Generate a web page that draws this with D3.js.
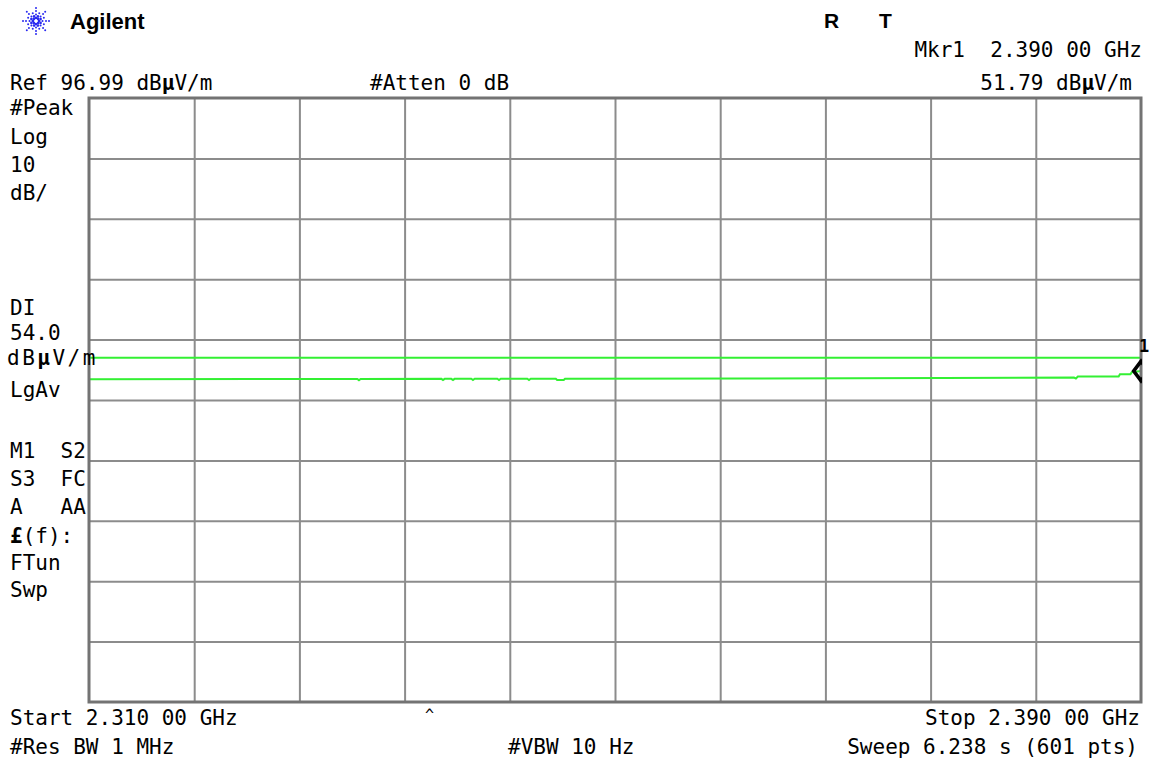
<!DOCTYPE html>
<html>
<head>
<meta charset="utf-8">
<script src="https://cdn.jsdelivr.net/npm/d3@7"></script>
<style>
body { margin: 0; background: #fff; }
text { font-family: "DejaVu Sans Mono", monospace; font-size: 21px; fill: #000; white-space: pre; }
</style>
</head>
<body>
<div id="screen"></div>
<script>
// sweep settings
var startMHz = 2310.00, stopMHz = 2390.00
var refLevel = 96.99, dbPerDiv = 10, nDiv = 10
var displayLine = 54.0
var markerMHz = 2390.00, markerLevel = 51.79

// trace (LgAv), MHz and dBuV/m
var traceMHz = [2310.0, 2330.4, 2330.53, 2330.66, 2336.8, 2336.92, 2337.05, 2337.55, 2337.68, 2337.8,
                2339.07, 2339.2, 2339.33, 2341.05, 2341.18, 2341.31, 2343.33, 2343.46, 2343.59,
                2345.5, 2345.6, 2346.1, 2346.2, 2360.0, 2375.0, 2384.9, 2385.05, 2385.2,
                2388.3, 2388.4, 2389.2, 2389.3, 2390.0]
var traceLevel = [50.44, 50.47, 50.27, 50.47, 50.49, 50.29, 50.49, 50.49, 50.29, 50.49,
                  50.50, 50.30, 50.50, 50.50, 50.30, 50.50, 50.51, 50.31, 50.51,
                  50.51, 50.31, 50.31, 50.52, 50.56, 50.64, 50.71, 50.55, 50.88,
                  50.88, 51.27, 51.27, 51.60, 51.79]

// set the dimensions of the graticule
var W = 1149, H = 760
var margin = {top: 98, left: 89},
    width = 1052,
    height = 604;

var svg = d3.select("#screen")
  .append("svg")
    .attr("width", W)
    .attr("height", H)

var plot = svg.append("g")
    .attr("transform", "translate(" + margin.left + "," + margin.top + ")");

var x = d3.scaleLinear()
  .domain([startMHz, stopMHz])
  .range([0, width])

var y = d3.scaleLinear()
  .domain([refLevel - nDiv * dbPerDiv, refLevel])
  .range([height, 0])

var xDivs = d3.range(1, nDiv).map(function(i){ return startMHz + i * (stopMHz - startMHz) / nDiv })
var yDivs = d3.range(1, nDiv).map(function(i){ return refLevel - i * dbPerDiv })

// vertical grid
plot.append("g")
    .attr("class", "grid")
    .attr("transform", "translate(0," + height + ")")
    .call(d3.axisBottom(x).tickValues(xDivs).tickSize(-height).tickFormat(""))
// horizontal grid
plot.append("g")
    .attr("class", "grid")
    .call(d3.axisLeft(y).tickValues(yDivs).tickSize(-width).tickFormat(""))

plot.selectAll(".grid .domain").remove()
plot.selectAll(".grid line")
    .attr("stroke", "#8c8c8c")
    .attr("stroke-width", 2)

// display line
plot.append("line")
    .attr("x1", x(startMHz))
    .attr("x2", x(stopMHz))
    .attr("y1", y(displayLine))
    .attr("y2", y(displayLine))
    .attr("stroke", "#33f033")
    .attr("stroke-width", 2)

// trace
var pts = traceMHz.map(function(f, i){ return [f, traceLevel[i]] })
plot.append("path")
    .datum(pts)
    .attr("fill", "none")
    .attr("stroke", "#33f033")
    .attr("stroke-width", 2)
    .attr("d", d3.line()
      .x(function(d){ return x(d[0]) })
      .y(function(d){ return y(d[1]) }))

// frame
plot.append("rect")
    .attr("width", width)
    .attr("height", height)
    .attr("fill", "none")
    .attr("stroke", "#737373")
    .attr("stroke-width", 3)

// marker diamond, only the left half shows inside the graticule
svg.append("clipPath").attr("id", "clip")
  .append("rect").attr("width", width + 1).attr("height", height)
plot.append("g")
    .attr("clip-path", "url(#clip)")
  .append("path")
    .attr("d", d3.symbol().type(d3.symbolDiamond).size(110)())
    .attr("transform", "translate(" + x(markerMHz) + "," + y(markerLevel) + ") scale(1.3,1)")
    .attr("fill", "none")
    .attr("stroke", "#000")
    .attr("stroke-width", 3)
plot.append("text")
    .attr("x", x(markerMHz) - 2)
    .attr("y", y(markerLevel) - 19)
    .style("font-size", "17px")
    .style("font-weight", "bold")
    .text("1")

// text helper: parts = [[string, bold], ...]
function label(xp, yp, parts, anchor) {
  var t = svg.append("text")
    .attr("x", xp)
    .attr("y", yp)
    .attr("text-anchor", anchor || "start")
  parts.forEach(function(p){
    t.append("tspan").attr("font-weight", p[1] ? "bold" : "normal").text(p[0])
  })
  return t
}

// header
label(10, 90, [["Ref 96.99 dB"], ["µ", 1], ["V/m"]])
label(370, 90, [["#Atten 0 dB"]])
label(1142, 57, [["Mkr1  2.390 00 GHz"]], "end")
label(1132, 90, [["51.79 dB"], ["µ", 1], ["V/m"]], "end")

svg.append("text")
    .attr("x", 70).attr("y", 29)
    .style("font-family", "'Liberation Sans', Arial, sans-serif")
    .style("font-weight", "bold")
    .style("font-size", "22px")
    .text("Agilent")
svg.selectAll("rt")
  .data([["R", 824], ["T", 879]])
  .enter()
  .append("text")
    .attr("x", function(d){ return d[1] })
    .attr("y", 28)
    .style("font-family", "'Liberation Sans', Arial, sans-serif")
    .style("font-weight", "bold")
    .style("font-size", "21px")
    .text(function(d){ return d[0] })

// starburst logo
var logo = svg.append("g").attr("transform", "translate(36,21)")
d3.range(16).forEach(function(k){
  var a = k * Math.PI / 8
  var radii = (k % 2 == 0) ? [3, 6.5, 10, 13] : [5, 8.5]
  radii.forEach(function(r, j){
    logo.append("circle")
      .attr("cx", r * Math.cos(a))
      .attr("cy", r * Math.sin(a))
      .attr("r", j == 0 ? 1.3 : 1)
      .attr("fill", "#2a2af0")
  })
})

// left side annotations
label(10, 115, [["#Peak"]])
label(10, 144, [["Log"]])
label(10, 172, [["10"]])
label(10, 200, [["dB/"]])
label(10, 315, [["DI"]])
label(10, 340, [["54.0"]])
label(7, 365, [["dB"], ["µ", 1], ["V/m"]]).attr("letter-spacing", "2.5px")
label(10, 397, [["LgAv"]])
label(10, 458, [["M1  S2"]])
label(10, 486, [["S3  FC"]])
label(10, 514, [["A   AA"]])
label(10, 543, [["£", 1], ["(f):"]])
label(10, 570, [["FTun"]])
label(10, 597, [["Swp"]])

// footer
label(10, 725, [["Start 2.310 00 GHz"]])
label(425, 720, [["^"]]).style("font-size", "15px")
label(1140, 725, [["Stop 2.390 00 GHz"]], "end")
label(10, 754, [["#Res BW 1 MHz"]])
label(508, 754, [["#VBW 10 Hz"]])
label(1138, 754, [["Sweep 6.238 s (601 pts)"]], "end")
</script>
</body>
</html>
